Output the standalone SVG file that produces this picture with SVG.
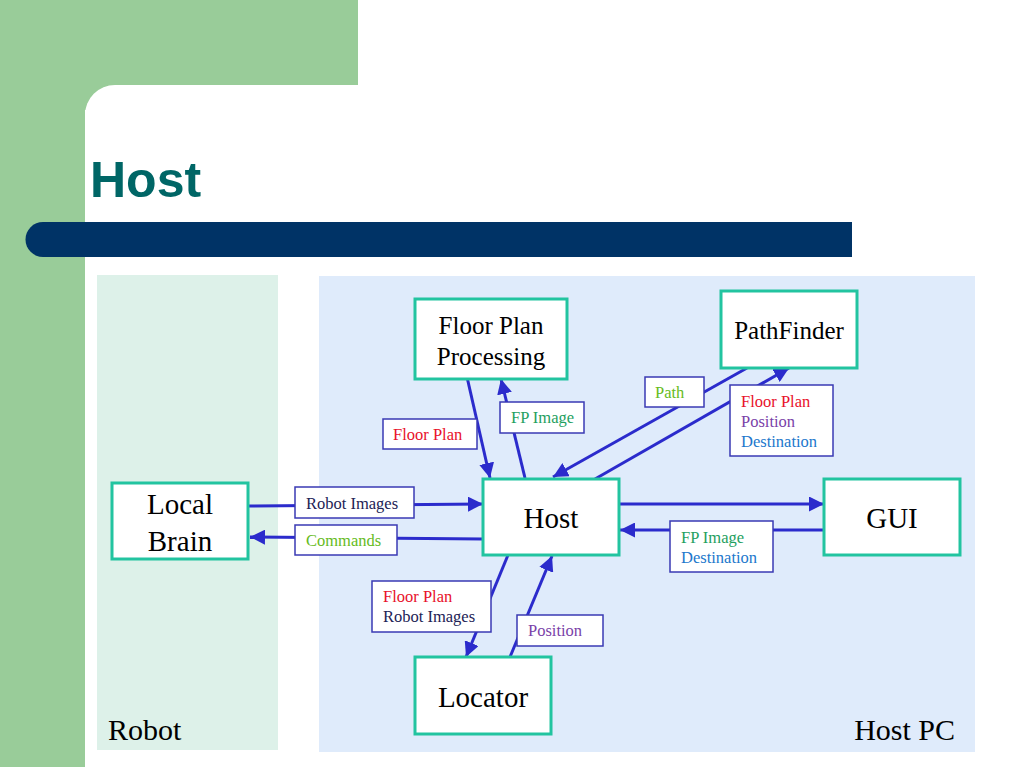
<svg xmlns="http://www.w3.org/2000/svg" width="1023" height="767" viewBox="0 0 1023 767">
<defs>
<style>
.node{fill:#fff;stroke:#22C4A0;stroke-width:3}
.lbl{fill:#fff;stroke:#3A3AB4;stroke-width:1.5}
.nt{font-size:29px;fill:#000;text-anchor:middle}
.nt2{font-size:25px;fill:#000;text-anchor:middle}
.lt{font-size:16.5px}
.con{stroke:#2B2BCC;stroke-width:3;fill:none}
</style>
<marker id="a" viewBox="0 0 12 12" refX="12" refY="6" markerWidth="5" markerHeight="5" orient="auto">
<path d="M0,0 L12,6 L0,12 Z" fill="#2B2BCC"/>
</marker>
</defs>
<rect width="1023" height="767" fill="#fff"/>
<rect x="0" y="0" width="358" height="115" fill="#99CC99"/>
<rect x="0" y="0" width="85" height="767" fill="#99CC99"/>
<path d="M85,115 A30,30 0 0 1 115,85 L358,85 L358,115 Z" fill="#fff"/>
<rect x="85" y="110" width="938" height="657" fill="#fff"/>
<text x="90" y="197" font-family="Liberation Sans" font-weight="bold" font-size="50" fill="#006666">Host</text>
<path d="M43,222 L852,222 L852,257 L43,257 A17.5,17.5 0 0 1 43,222 Z" fill="#003366"/>
<rect x="97" y="275" width="181" height="475" fill="#DDF1E9"/>
<rect x="319" y="276" width="656" height="476" fill="#DFEBFB"/>
<g font-family="Liberation Serif">
<text x="108" y="740" font-size="30" fill="#000">Robot</text>
<text x="955" y="740" font-size="30" fill="#000" text-anchor="end">Host PC</text>
<g id="connectors">
<line class="con" x1="248" y1="506" x2="483" y2="504" marker-end="url(#a)"/>
<line class="con" x1="483" y1="539" x2="250" y2="537" marker-end="url(#a)"/>
<line class="con" x1="619" y1="504" x2="824" y2="504" marker-end="url(#a)"/>
<line class="con" x1="824" y1="530" x2="620" y2="530" marker-end="url(#a)"/>
<line class="con" x1="467" y1="377" x2="490" y2="478" marker-end="url(#a)"/>
<line class="con" x1="525" y1="478" x2="501" y2="379" marker-end="url(#a)"/>
<line class="con" x1="747" y1="368" x2="553" y2="477" marker-end="url(#a)"/>
<line class="con" x1="595" y1="479" x2="789" y2="368" marker-end="url(#a)"/>
<line class="con" x1="508" y1="555" x2="466" y2="657" marker-end="url(#a)"/>
<line class="con" x1="510" y1="657" x2="552" y2="556" marker-end="url(#a)"/>
</g>
<g id="node-localbrain"><rect class="node" x="112" y="483" width="136" height="76"/><text class="nt" x="180" y="514">Local</text><text class="nt" x="180" y="551">Brain</text></g>
<g id="node-fpp"><rect class="node" x="415" y="299" width="152" height="80"/><text class="nt2" x="491" y="334">Floor Plan</text><text class="nt2" x="491" y="365">Processing</text></g>
<g id="node-pathfinder"><rect class="node" x="721" y="291" width="136" height="77"/><text class="nt2" x="789" y="339">PathFinder</text></g>
<g id="node-host"><rect class="node" x="483" y="479" width="136" height="76"/><text class="nt" x="551" y="528">Host</text></g>
<g id="node-gui"><rect class="node" x="824" y="479" width="136" height="76"/><text class="nt" x="892" y="528">GUI</text></g>
<g id="node-locator"><rect class="node" x="415" y="657" width="136" height="77"/><text class="nt" x="483" y="707">Locator</text></g>
<g id="labels">
<g id="lbl-floorplan"><rect class="lbl" x="383" y="419" width="94" height="30"/><text class="lt" x="393" y="440" fill="#E8102A">Floor Plan</text></g>
<g id="lbl-fpimage"><rect class="lbl" x="500" y="402" width="84" height="31"/><text class="lt" x="511" y="423" fill="#1FA060">FP Image</text></g>
<g id="lbl-path"><rect class="lbl" x="645" y="377" width="59" height="30"/><text class="lt" x="655" y="398" fill="#66BB22">Path</text></g>
<g id="lbl-fpd"><rect class="lbl" x="730" y="385" width="103" height="71"/><text class="lt" x="741" y="407" fill="#E8102A">Floor Plan</text><text class="lt" x="741" y="427" fill="#7A3FA8">Position</text><text class="lt" x="741" y="447" fill="#2277CC">Destination</text></g>
<g id="lbl-robotimages"><rect class="lbl" x="295" y="487" width="119" height="31"/><text class="lt" x="306" y="509" fill="#222255">Robot Images</text></g>
<g id="lbl-commands"><rect class="lbl" x="295" y="525" width="102" height="30"/><text class="lt" x="306" y="546" fill="#66BB22">Commands</text></g>
<g id="lbl-fpdest"><rect class="lbl" x="670" y="521" width="103" height="51"/><text class="lt" x="681" y="543" fill="#1FA060">FP Image</text><text class="lt" x="681" y="563" fill="#2277CC">Destination</text></g>
<g id="lbl-fpri"><rect class="lbl" x="372" y="581" width="119" height="51"/><text class="lt" x="383" y="602" fill="#E8102A">Floor Plan</text><text class="lt" x="383" y="622" fill="#222255">Robot Images</text></g>
<g id="lbl-position"><rect class="lbl" x="517" y="615" width="86" height="31"/><text class="lt" x="528" y="636" fill="#7A3FA8">Position</text></g>
</g>
</g>
</svg>
